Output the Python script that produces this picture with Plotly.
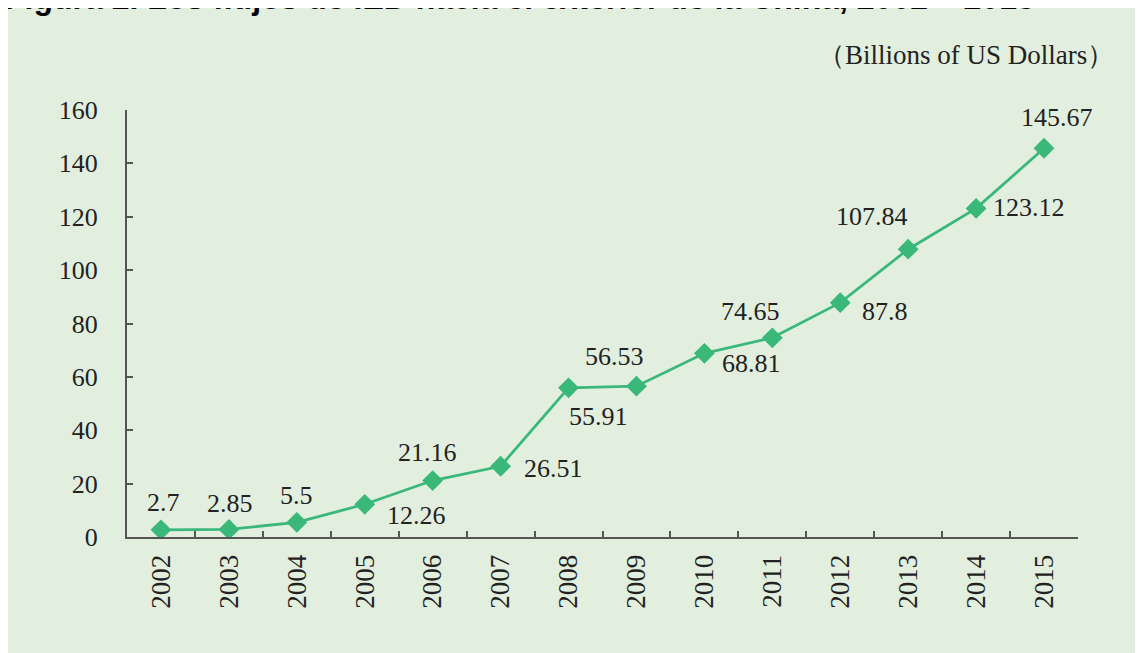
import plotly.graph_objects as go

years = ["2002", "2003", "2004", "2005", "2006", "2007", "2008",
         "2009", "2010", "2011", "2012", "2013", "2014", "2015"]
values = [2.7, 2.85, 5.5, 12.26, 21.16, 26.51, 55.91,
          56.53, 68.81, 74.65, 87.8, 107.84, 123.12, 145.67]
y_ticks = [0, 20, 40, 60, 80, 100, 120, 140, 160]
title_text = "Figura 2. Los flujos de IED hacia el exterior de la China, 2002 – 2015"
unit_text = "（Billions of US Dollars）"

# label offsets in pixels (style only)
label_dx = [3, 1, 0, 52, -5, 53, 30, -22, 47, -22, 45, -36, 53, 13]
label_dy = [27, 26, 27, -11, 28, -2, -29, 30, -10, 26, -9, 33, 1, 31]

# figure sits at (8, 8) in the page because of the body margin
W, H = 1133, 645
L, T = 119, 102
R = W - 1070
B = H - 529
pw, ph = W - L - R, H - T - B

def px_x(p):
    return (p - L) / pw

def px_y(p):
    return 1 + (T - p) / ph

GREEN = "rgb(58,184,122)"
BG = "#E3EFDE"
FONT = "Liberation Serif, Times New Roman, serif"
TXT = "#222222"

fig = go.Figure()
fig.add_trace(go.Scatter(
    x=years, y=values, mode="lines+markers",
    line=dict(color=GREEN, width=2.8),
    marker=dict(symbol="diamond", size=16, color=GREEN),
    hoverinfo="x+y", showlegend=False,
))

annotations = []
for i, (v, dx, dy) in enumerate(zip(values, label_dx, label_dy)):
    annotations.append(dict(
        x=i, y=v, xref="x", yref="y", text=f"{v:g}", showarrow=False,
        xshift=dx, yshift=dy, xanchor="center", yanchor="middle",
        font=dict(family=FONT, size=26, color=TXT),
    ))
annotations.append(dict(
    x=px_x(958), y=px_y(47), xref="paper", yref="paper", text=unit_text,
    showarrow=False, xanchor="center", yanchor="middle",
    font=dict(family=FONT, size=27, color=TXT),
))
annotations.append(dict(
    x=px_x(-4), y=px_y(9), xref="paper", yref="paper", text="<b>" + title_text + "</b>",
    showarrow=False, xanchor="left", yanchor="bottom", borderpad=0,
    font=dict(family="Liberation Sans, Arial, sans-serif", size=32, color="#000000"),
))

fig.update_layout(
    width=W, height=H,
    margin=dict(l=L, r=R, t=T, b=B),
    paper_bgcolor=BG, plot_bgcolor=BG,
    annotations=annotations,
    xaxis=dict(
        type="category", categoryorder="array", categoryarray=years,
        range=[-0.5, len(years) - 0.5], tickson="boundaries",
        ticks="inside", ticklen=6, tickwidth=1.5, tickcolor="#555555",
        showline=True, linecolor="#555555", linewidth=2, showgrid=False,
        zeroline=False, tickangle=-90, ticklabelstandoff=5,
        tickfont=dict(family=FONT, size=27, color=TXT),
    ),
    yaxis=dict(
        range=[0, 160], tickvals=y_ticks, ticktext=[str(t) for t in y_ticks],
        ticks="inside", ticklen=6, tickwidth=1.5, tickcolor="#555555",
        showline=True, linecolor="#555555", linewidth=2, showgrid=False,
        zeroline=False, ticklabelstandoff=22,
        tickfont=dict(family=FONT, size=26, color=TXT),
    ),
)

fig.write_html("out.html")
